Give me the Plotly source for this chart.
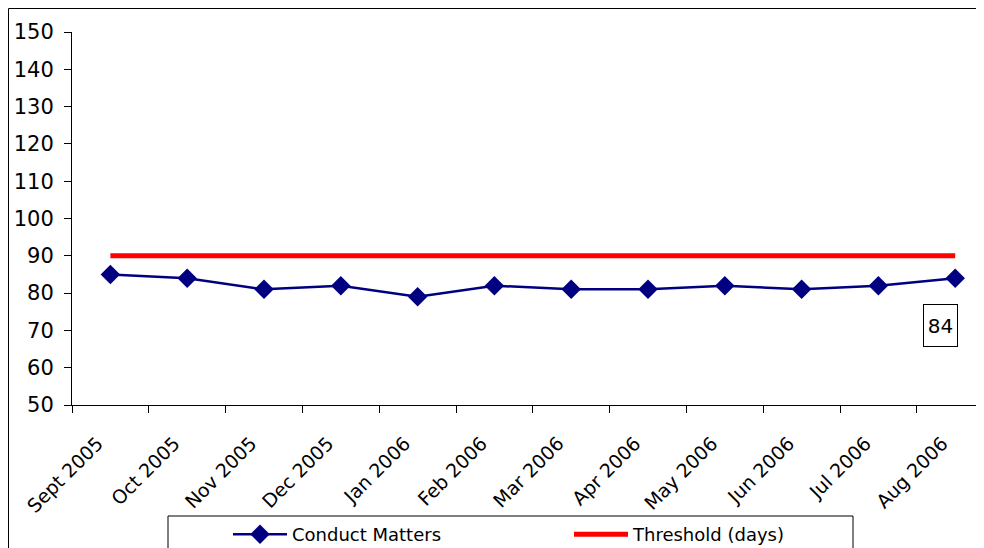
import plotly.graph_objects as go

months = ["Sept 2005", "Oct 2005", "Nov 2005", "Dec 2005", "Jan 2006", "Feb 2006",
          "Mar 2006", "Apr 2006", "May 2006", "Jun 2006", "Jul 2006", "Aug 2006"]
conduct = [85, 84, 81, 82, 79, 82, 81, 81, 82, 81, 82, 84]
threshold = [90] * 12

FONT = "DejaVu Sans"
PAD = "\u00a0" * 3  # nudges rotated labels down-left like the reference

fig = go.Figure()
fig.add_trace(go.Scatter(
    x=months, y=conduct, name="Conduct Matters", mode="lines+markers",
    line=dict(color="#000080", width=2.5),
    marker=dict(symbol="diamond", size=15, color="#000080"),
))
fig.add_trace(go.Scatter(
    x=months, y=threshold, name="Threshold (days)", mode="lines",
    line=dict(color="#FF0000", width=5),
))

fig.add_annotation(
    x=months[-1], y=conduct[-1], text=str(conduct[-1]), showarrow=False,
    xshift=-15, yshift=-47, font=dict(family=FONT, size=20, color="black"),
    width=25, height=33,
    bordercolor="black", borderwidth=1, borderpad=4, bgcolor="white",
)

# outer chart border (right/bottom edges fall outside the picture)
fig.add_shape(type="rect", xref="paper", yref="paper",
              x0=(8.5 - 72) / 912, x1=1.2, y0=-0.5, y1=(405 - 8.5) / 373,
              line=dict(color="black", width=1), layer="below")
# legend box
fig.add_shape(type="rect", xref="paper", yref="paper",
              x0=(168 - 72) / 912, x1=(853 - 72) / 912,
              y0=(405 - 560) / 373, y1=(405 - 516) / 373,
              line=dict(color="black", width=1), layer="below")

fig.update_layout(
    width=984, height=548,
    margin=dict(l=64, r=8, t=24, b=151, autoexpand=False),
    paper_bgcolor="white", plot_bgcolor="white",
    font=dict(family=FONT, color="black"),
    showlegend=True,
    legend=dict(
        orientation="h", xref="container", yref="container",
        x=220 / 984, xanchor="left",
        y=1 - 508 / 548, yanchor="top",
        entrywidth=272, entrywidthmode="pixels", itemwidth=54,
        font=dict(family=FONT, size=18, color="black"),
        bgcolor="rgba(0,0,0,0)", borderwidth=0,
    ),
    xaxis=dict(
        type="category", range=[-0.5, 11.375], tickson="boundaries",
        tickmode="array", tickvals=months, ticktext=[m + PAD for m in months],
        automargin=False,
        ticks="outside", ticklen=7, tickcolor="black", tickwidth=1,
        showline=True, linecolor="black", linewidth=1,
        showgrid=False, zeroline=False, tickangle=-45,
        ticklabelstandoff=6,
        tickfont=dict(family=FONT, size=19, color="black"),
    ),
    yaxis=dict(
        range=[50, 150], dtick=10, ticks="outside", ticklen=7,
        automargin=False, ticklabelstandoff=6,
        tickcolor="black", tickwidth=1,
        showline=True, linecolor="black", linewidth=1,
        showgrid=False, zeroline=False,
        tickfont=dict(family=FONT, size=21, color="black"),
    ),
)

fig.write_html("out.html")
